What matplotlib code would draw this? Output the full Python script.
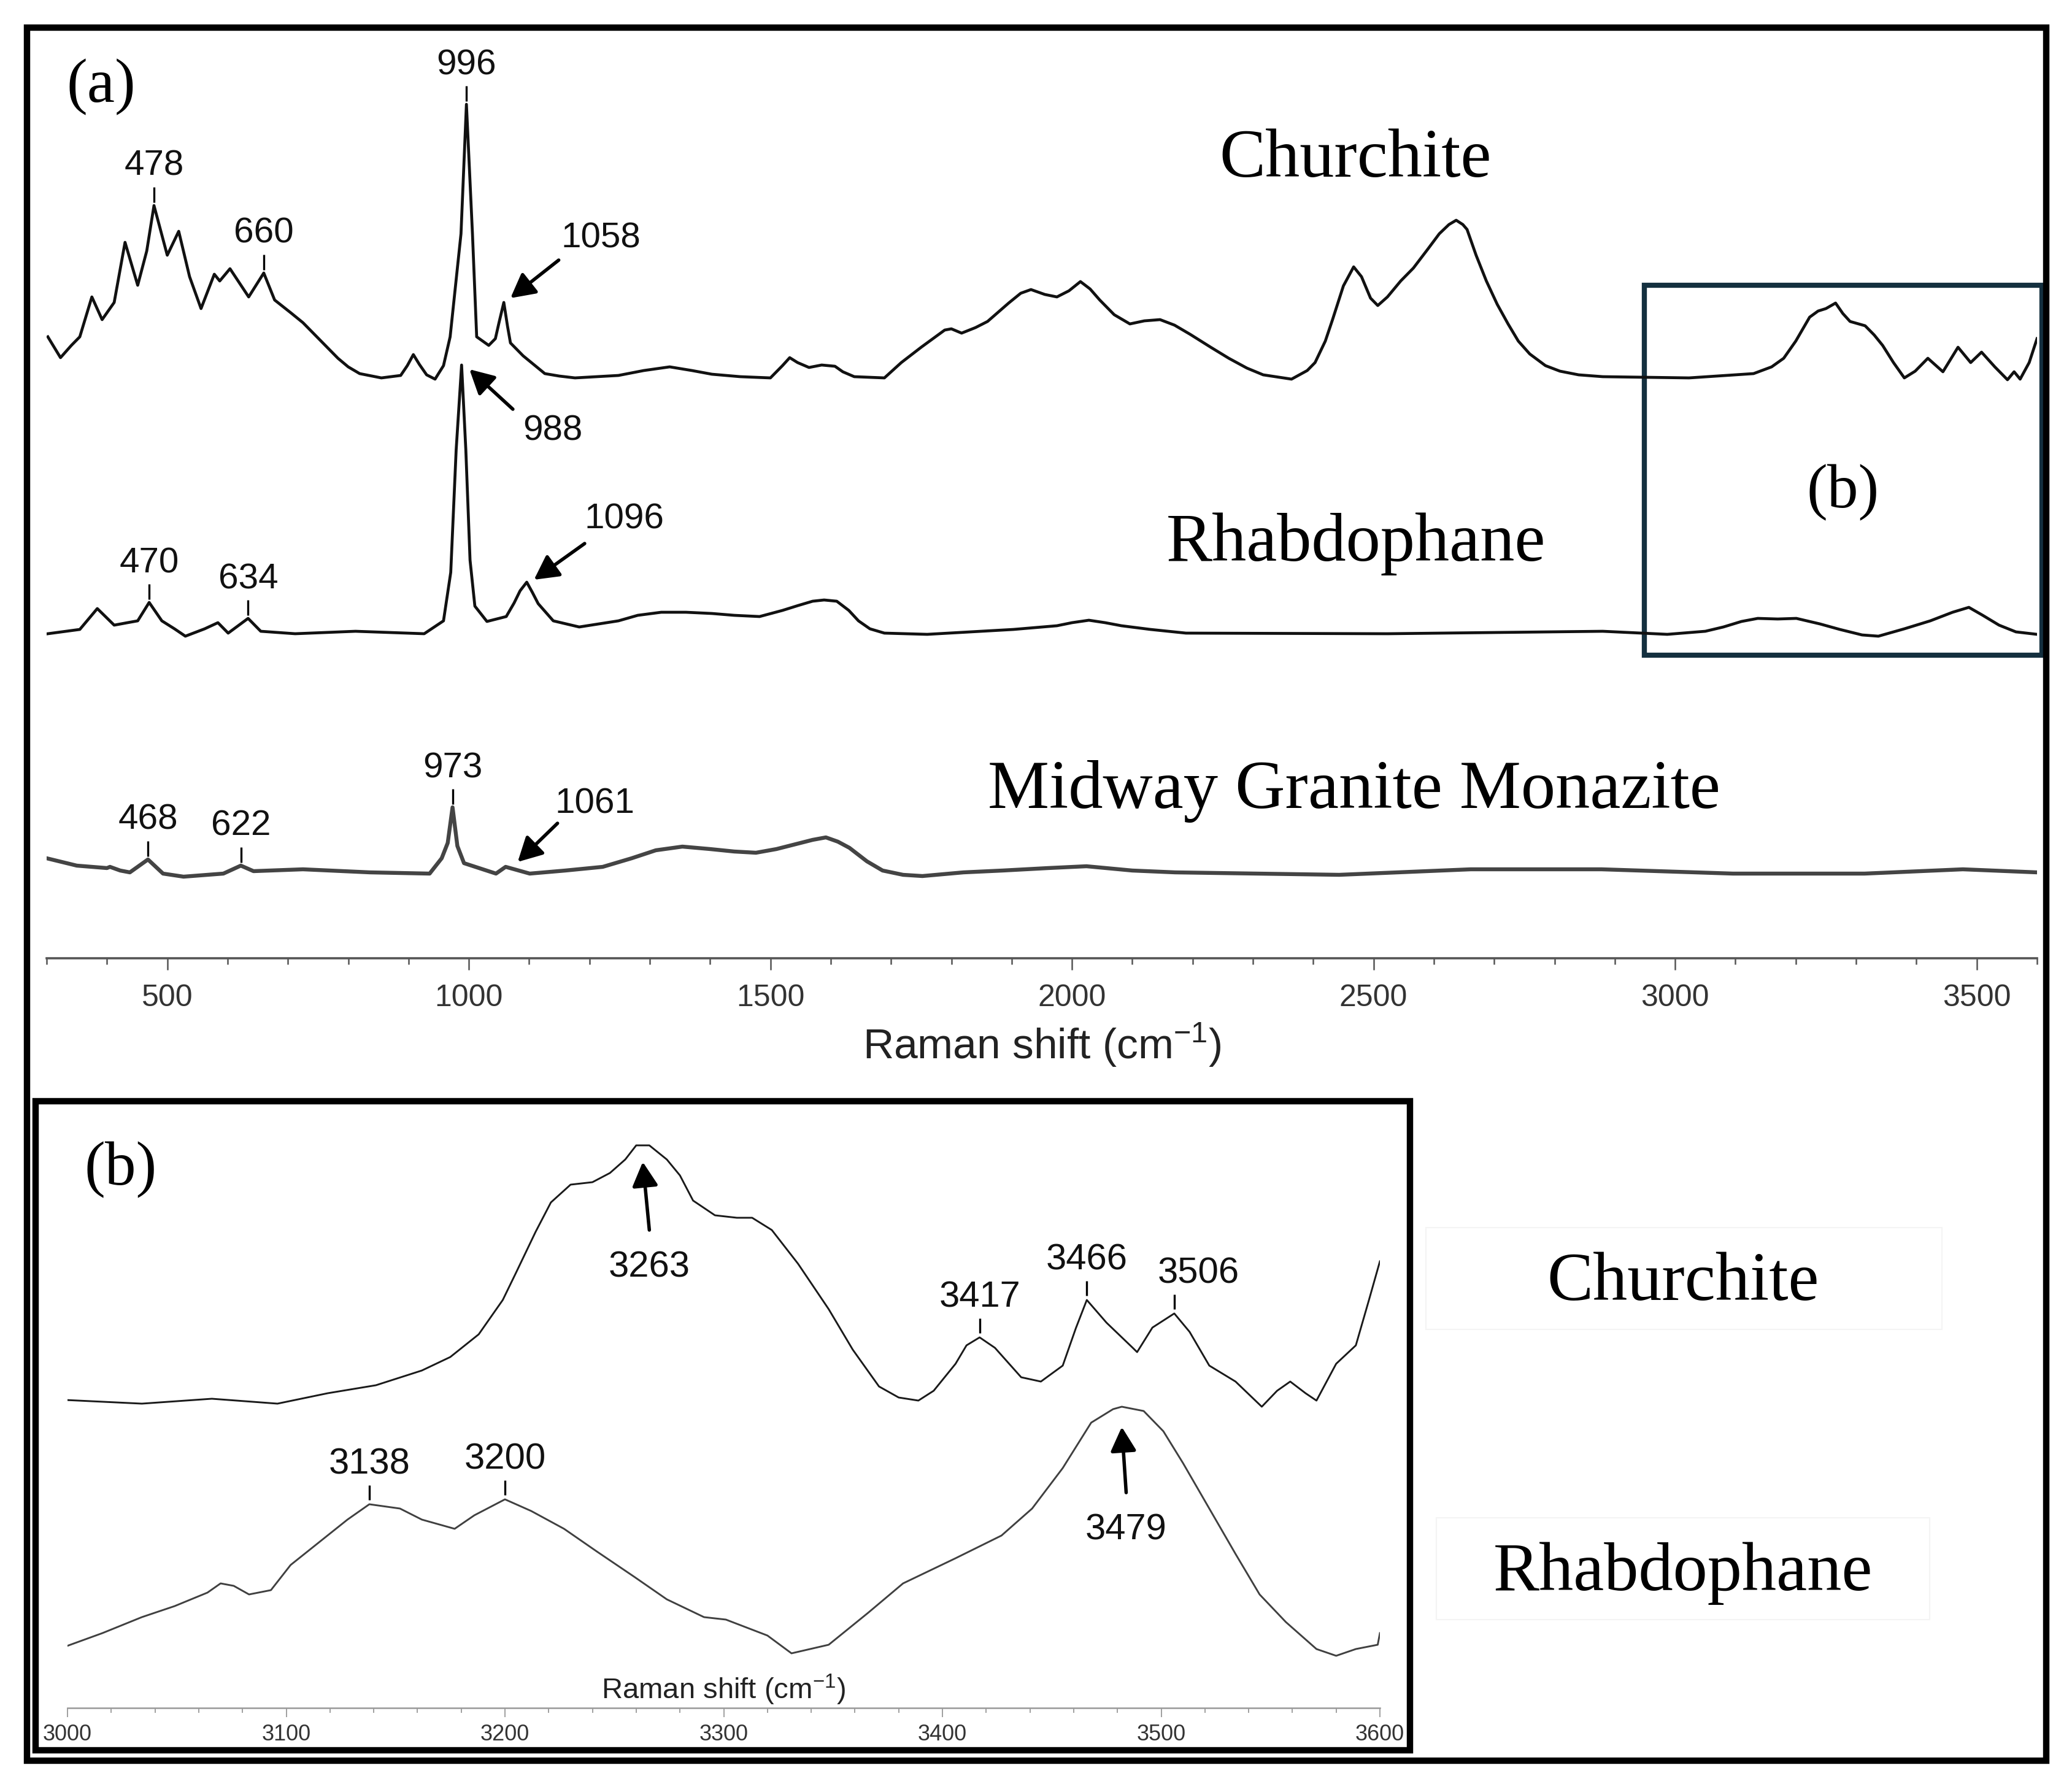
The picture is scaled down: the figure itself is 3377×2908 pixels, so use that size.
#import libraries
import numpy as np
import matplotlib
matplotlib.use('Agg')
import matplotlib.pyplot as plt
from matplotlib.patches import Rectangle
from matplotlib.ticker import MultipleLocator

plt.rcParams['font.family'] = 'Liberation Sans'
plt.rcParams['mathtext.fontset'] = 'custom'
plt.rcParams['mathtext.rm'] = 'Liberation Sans'

#Data Definition: panel (a), Raman shift (cm-1) and intensity above each trace's baseline (a.u.)
church_x = [302, 323, 341, 355, 375, 392, 412, 430, 451, 466,
            478, 500, 519, 537, 556, 578, 587, 604, 635, 660,
            678, 705, 725, 748, 765, 783, 800, 819, 855, 887,
            898, 908, 918, 930, 944, 958, 969, 987, 996, 1006,
            1013, 1033, 1044, 1050, 1058, 1064, 1069, 1090, 1126, 1150,
            1176, 1248, 1290, 1333, 1370, 1403, 1450, 1500, 1520, 1532,
            1545, 1564, 1585, 1607, 1620, 1639, 1689, 1717, 1750, 1789,
            1800, 1817, 1840, 1860, 1895, 1915, 1932, 1955, 1975, 1995,
            2014, 2030, 2046, 2070, 2096, 2120, 2146, 2170, 2196, 2230,
            2260, 2290, 2317, 2364, 2390, 2403, 2420, 2432, 2450, 2467,
            2480, 2495, 2507, 2523, 2545, 2566, 2590, 2609, 2625, 2637,
            2648, 2655, 2670, 2687, 2705, 2723, 2740, 2759, 2785, 2809,
            2840, 2880, 3023, 3130, 3160, 3180, 3200, 3223, 3237, 3250,
            3266, 3278, 3290, 3315, 3330, 3344, 3362, 3380, 3398, 3419,
            3444, 3469, 3490, 3508, 3530, 3551, 3562, 3572, 3587, 3600]
church_y = [67, 33, 53, 67, 132, 95, 123, 221, 151, 207,
            281, 200, 239, 165, 113, 169, 158, 178, 132, 171,
            127, 106, 90, 67, 50, 32, 18, 7, 0, 4,
            20, 38, 22, 5, -2, 20, 67, 235, 446, 235,
            67, 53, 64, 90, 123, 85, 57, 36, 7, 3,
            0, 4, 12, 18, 12, 6, 2, 0, 20, 33,
            25, 17, 21, 19, 10, 2, 0, 25, 50, 78,
            80, 73, 82, 92, 122, 138, 144, 136, 132, 142,
            157, 145, 127, 103, 88, 93, 95, 86, 71, 50,
            32, 16, 5, -2, 12, 25, 60, 95, 150, 181,
            165, 130, 118, 132, 158, 179, 210, 235, 250, 257,
            250, 242, 200, 158, 120, 88, 60, 39, 20, 11,
            5, 2, 0, 7, 18, 32, 60, 99, 109, 113,
            122, 105, 92, 85, 70, 53, 25, 0, 11, 32,
            10, 50, 25, 42, 18, -3, 10, -2, 25, 64]

rhab_x = [302, 355, 384, 412, 434, 451, 470, 491, 512, 530,
          562, 584, 601, 634, 655, 712, 812, 926, 958, 970,
          979, 988, 995, 1002, 1010, 1030, 1062, 1075, 1085, 1096,
          1105, 1115, 1140, 1183, 1248, 1280, 1319, 1360, 1403, 1440,
          1482, 1520, 1546, 1570, 1589, 1610, 1630, 1646, 1665, 1689,
          1760, 1903, 1975, 2000, 2028, 2055, 2082, 2130, 2189, 2523,
          2880, 2987, 3050, 3080, 3110, 3137, 3170, 3201, 3240, 3273,
          3310, 3337, 3380, 3423, 3460, 3487, 3510, 3537, 3565, 3600]
rhab_y = [0, 7, 41, 14, 18, 21, 51, 21, 8, -4,
          8, 18, 1, 25, 4, 0, 4, 0, 21, 100,
          300, 438, 300, 120, 45, 20, 28, 50, 70, 84,
          68, 49, 21, 11, 21, 30, 35, 35, 33, 30,
          28, 38, 46, 53, 55, 53, 38, 21, 8, 1,
          -1, 7, 13, 18, 22, 18, 13, 7, 1, 0,
          4, -1, 4, 11, 20, 25, 24, 25, 16, 7,
          -2, -4, 8, 21, 35, 43, 30, 14, 3, -1]

mona_x = [300, 350, 400, 405, 422, 438, 468, 493, 527, 593,
          622, 643, 725, 836, 935, 955, 965, 973, 981, 992,
          1045, 1061, 1101, 1160, 1222, 1270, 1310, 1354, 1400, 1440,
          1476, 1510, 1542, 1570, 1592, 1612, 1631, 1660, 1686, 1720,
          1752, 1820, 1885, 1960, 2024, 2100, 2171, 2443, 2661, 2878,
          3096, 3314, 3477, 3600]
mona_y = [25, 13, 9, 11, 5, 2, 23, 0, -5, 0,
          13, 4, 7, 2, 0, 25, 50, 108, 45, 17,
          0, 11, 0, 5, 11, 25, 38, 44, 40, 36,
          34, 40, 48, 55, 59, 52, 42, 20, 5, -2,
          -4, 2, 5, 9, 12, 5, 2, -2, 7, 7,
          0, 0, 7, 2]

#Data Definition: panel (b), 3000-3600 cm-1 detail
church_b_x = [2999, 3034, 3066, 3096, 3119, 3141, 3162, 3175, 3188, 3199,
              3205, 3214, 3221, 3230, 3240, 3248, 3255, 3260, 3266, 3274,
              3280, 3286, 3296, 3306, 3313, 3322, 3334, 3348, 3359, 3371,
              3380, 3389, 3396, 3406, 3411, 3417, 3424, 3436, 3445, 3455,
              3461, 3466, 3475, 3487, 3489, 3496, 3506, 3513, 3522, 3534,
              3546, 3553, 3559, 3566, 3571, 3580, 3589, 3595, 3600]
church_b_y = [3, -3, 5, -3, 14, 27, 51, 73, 110, 166,
              210, 277, 325, 354, 358, 373, 395, 418, 418, 395,
              369, 328, 304, 300, 300, 280, 225, 151, 85, 25,
              7, 2, 18, 62, 92, 105, 88, 40, 33, 59,
              120, 166, 129, 88, 81, 121, 144, 114, 59, 33,
              -8, 18, 33, 14, 2, 62, 92, 166, 229]

rhab_b_x = [2999, 3016, 3034, 3049, 3064, 3070, 3076, 3083, 3093, 3102,
            3115, 3128, 3138, 3152, 3162, 3177, 3186, 3200, 3212, 3227,
            3242, 3259, 3274, 3291, 3301, 3320, 3331, 3348, 3366, 3382,
            3406, 3427, 3441, 3455, 3468, 3478, 3482, 3492, 3501, 3510,
            3522, 3534, 3545, 3557, 3571, 3580, 3589, 3599, 3600]
rhab_b_y = [0, 22, 48, 66, 88, 103, 99, 85, 92, 133,
            170, 207, 232, 225, 207, 192, 214, 240, 221, 192,
            155, 114, 77, 48, 44, 18, -11, 3, 55, 103,
            144, 181, 225, 291, 365, 387, 391, 384, 351, 299,
            225, 151, 85, 40, -4, -15, -4, 3, 22]

#stacking offsets (a.u.)
church_off, rhab_off, mona_off = 946, 529, 138
church_b_off, rhab_b_off = 499, 100

#labelled peaks (tick mark above the peak)
church_marks = [478, 660, 996]
rhab_marks = [470, 634]
mona_marks = [468, 622, 973]
church_b_marks = [3417, 3466, 3506]
rhab_b_marks = [3138, 3200]

#arrow labels: text, text position, arrow tail, arrow head
arrows_a = [('1058', (1219, 1174), (1149, 1138), (1069, 1076)),
            ('988', (1139, 860), (1073, 895), (1001, 960)),
            ('1096', (1258, 715), (1192, 676), (1108, 617)),
            ('1061', (1209, 252), (1147, 220), (1081, 157))]
arrows_b = [('3263', (3266, 718), (3266, 779), (3263, 890)),
            ('3479', (3484, 290), (3484, 351), (3482, 458))]

#Create Figure
W, H = 3377, 2908
fig = plt.figure(figsize=(W / 100, H / 100), dpi=100)


def fx(px):
    return px / W


def fy(py):
    return 1 - py / H


def mark_peaks(ax, xs, ys, off, peaks, size, gap=5, length=25, lab=34, dx=None):
    dx = dx or {}
    for p in peaks:
        top = np.interp(p, xs, ys) + off
        ax.plot([p, p], [top + gap, top + gap + length], color='k', lw=2.4,
                solid_capstyle='butt')
        ax.text(p + dx.get(p, 0), top + gap + length + lab, str(p), ha='center',
                va='center', fontsize=size, color='#111')


def draw_arrows(ax, arrows, size):
    for txt, pos, tail, head in arrows:
        ax.annotate('', xy=head, xytext=tail,
                    arrowprops=dict(arrowstyle='-|>,head_length=0.6,head_width=0.32',
                                    color='k', lw=4, mutation_scale=40,
                                    shrinkA=0, shrinkB=0))
        ax.text(pos[0], pos[1], txt, ha='center', va='center', fontsize=size, color='#111')


#Panel (a)
ax_a = fig.add_axes([fx(76), fy(1562), (3320 - 76) / W, (1562 - 40) / H])
ax_a.patch.set_visible(False)
ax_a.plot(church_x, np.array(church_y) + church_off, color='#111', lw=3.4,
          solid_joinstyle='round')
ax_a.plot(rhab_x, np.array(rhab_y) + rhab_off, color='#111', lw=3.4,
          solid_joinstyle='round')
ax_a.plot(mona_x, np.array(mona_y) + mona_off, color='#444', lw=4.6,
          solid_joinstyle='round')
ax_a.set_xlim(300, 3600)
ax_a.set_ylim(0, 1522)
for s in ['left', 'right', 'top']:
    ax_a.spines[s].set_visible(False)
ax_a.spines['bottom'].set_color('#555')
ax_a.spines['bottom'].set_linewidth(2.6)
ax_a.set_yticks([])
ax_a.xaxis.set_major_locator(MultipleLocator(500))
ax_a.xaxis.set_minor_locator(MultipleLocator(100))
ax_a.tick_params(axis='x', which='major', direction='out', length=14, width=1.8,
                 color='#555', labelsize=36, labelcolor='#333', pad=16)
ax_a.tick_params(axis='x', which='minor', direction='out', length=7, width=1.8, color='#555')

mark_peaks(ax_a, church_x, church_y, church_off, church_marks, 42)
mark_peaks(ax_a, rhab_x, rhab_y, rhab_off, rhab_marks, 42)
mark_peaks(ax_a, mona_x, mona_y, mona_off, mona_marks, 42)
draw_arrows(ax_a, arrows_a, 42)

#box marking the region shown in (b)
ax_a.add_patch(Rectangle((2949, 494), 3608 - 2949, 1097 - 494, fill=False,
                         ec='#14303f', lw=6, clip_on=False, joinstyle='miter'))

fig.text(fx(1698), fy(1703), r'Raman shift (cm$^{\mathregular{-1}}$)', ha='center',
         va='center', fontsize=50, color='#222')

#Panel (b)
ax_b = fig.add_axes([fx(110), fy(2784), (2249 - 110) / W, (2784 - 1800) / H])
ax_b.patch.set_visible(False)
ax_b.plot(church_b_x, np.array(church_b_y) + church_b_off, color='#1a1a1a', lw=2.1,
          solid_joinstyle='round')
ax_b.plot(rhab_b_x, np.array(rhab_b_y) + rhab_b_off, color='#404040', lw=2.1,
          solid_joinstyle='round')
ax_b.set_xlim(3000, 3600)
ax_b.set_ylim(0, 984)
for s in ['left', 'right', 'top']:
    ax_b.spines[s].set_visible(False)
ax_b.spines['bottom'].set_color('#999')
ax_b.spines['bottom'].set_linewidth(1.8)
ax_b.set_yticks([])
ax_b.xaxis.set_major_locator(MultipleLocator(100))
ax_b.xaxis.set_minor_locator(MultipleLocator(20))
ax_b.tick_params(axis='x', which='major', direction='out', length=11, width=1.3,
                 color='#999', labelsize=26, labelcolor='#333', pad=8)
ax_b.tick_params(axis='x', which='minor', direction='out', length=6, width=1.3, color='#999')

mark_peaks(ax_b, church_b_x, church_b_y, church_b_off, church_b_marks, 43,
           gap=7, length=24, lab=34, dx={3506: 11})
mark_peaks(ax_b, rhab_b_x, rhab_b_y, rhab_b_off, rhab_b_marks, 43,
           gap=7, length=24, lab=34)
draw_arrows(ax_b, arrows_b, 43)
ax_b.text(3300, 30, r'Raman shift (cm$^{\mathregular{-1}}$)', ha='center', va='center',
          fontsize=34, color='#222')

#Serif labels
serif = 'Liberation Serif'
fig.text(fx(165), fy(142), '(a)', family=serif, fontsize=73, ha='center', va='center')
fig.text(fx(197), fy(1907), '(b)', family=serif, fontsize=73, ha='center', va='center')
fig.text(fx(3004), fy(803), '(b)', family=serif, fontsize=73, ha='center', va='center')
fig.text(fx(2209), fy(288), 'Churchite', family=serif, fontsize=81, ha='center', va='baseline')
fig.text(fx(2210), fy(914), 'Rhabdophane', family=serif, fontsize=81, ha='center', va='baseline')
fig.text(fx(2207), fy(1317), 'Midway Granite Monazite', family=serif, fontsize=81,
         ha='center', va='baseline')
fig.text(fx(2743), fy(2119), 'Churchite', family=serif, fontsize=81, ha='center', va='baseline')
fig.text(fx(2743), fy(2592), 'Rhabdophane', family=serif, fontsize=81, ha='center', va='baseline')

#faint boxes behind the (b) labels
for x0, y0, x1, y1 in [(2324, 2001, 3165, 2167), (2341, 2474, 3145, 2640)]:
    fig.add_artist(Rectangle((fx(x0), fy(y1)), (x1 - x0) / W, (y1 - y0) / H,
                             transform=fig.transFigure, fill=False, ec='#f4f4f4', lw=1.5))

#Frames
fig.add_artist(Rectangle((fx(44), fy(2870)), (3335 - 44) / W, (2870 - 45) / H,
                         transform=fig.transFigure, fill=False, ec='k', lw=7.5,
                         joinstyle='miter'))
fig.add_artist(Rectangle((fx(58), fy(2853)), (2298 - 58) / W, (2853 - 1795) / H,
                         transform=fig.transFigure, fill=False, ec='k', lw=7.5,
                         joinstyle='miter'))

#Save Plot
plt.savefig('out.png', dpi=100, facecolor='white')
